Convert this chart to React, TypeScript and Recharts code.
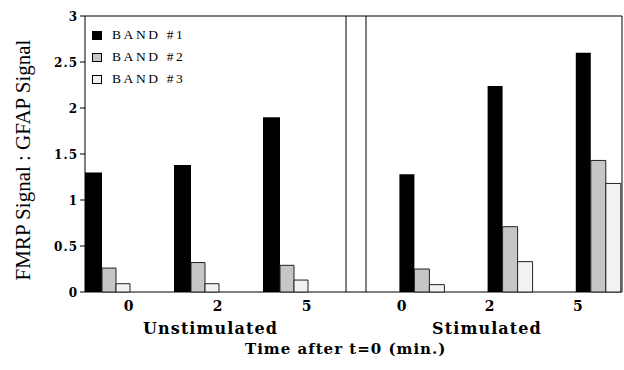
import React from 'react';
import { BarChart, Bar, XAxis, YAxis, Legend, CartesianGrid } from 'recharts';

const times = ['0', '2', '5'];
const bandNames = ['BAND #1', 'BAND #2', 'BAND #3'];
const unstimBand1 = [1.3, 1.38, 1.9];
const unstimBand2 = [0.26, 0.32, 0.29];
const unstimBand3 = [0.09, 0.09, 0.13];
const stimBand1 = [1.28, 2.24, 2.6];
const stimBand2 = [0.25, 0.71, 1.43];
const stimBand3 = [0.08, 0.33, 1.18];
const yTicks = [0, 0.5, 1, 1.5, 2, 2.5, 3];

const unstimData = times.map((t, i) => ({ time: t, b1: unstimBand1[i], b2: unstimBand2[i], b3: unstimBand3[i] }));
const stimData = times.map((t, i) => ({ time: t, b1: stimBand1[i], b2: stimBand2[i], b3: stimBand3[i] }));

const BAND_STYLES = [
  { fill: '#000000', stroke: '#000000' },
  { fill: '#c6c6c6', stroke: '#222222' },
  { fill: '#f2f2f2', stroke: '#222222' },
];

const BOLD = '"DejaVu Serif", serif';
const PLAIN = '"Liberation Serif", "Times New Roman", serif';
const AXIS = '#000';

const makeTick = (dx: number) => (props: any) => {
  const { x, y, payload } = props;
  return (
    <text x={x + dx} y={y + 19} textAnchor="middle" fontFamily={BOLD} fontWeight="bold" fontSize={14} fill="#000">
      {payload.value}
    </text>
  );
};

// y tick: small mark left of the axis plus the number
const yTick = (props: any) => {
  const { x, y, payload } = props;
  return (
    <g>
      <line x1={x - 5} y1={y} x2={x} y2={y} stroke={AXIS} />
      <text x={x - 7} y={y + 4.5} textAnchor="end" fontFamily={BOLD} fontWeight="bold" fontSize={12} letterSpacing={1} fill="#000">
        {payload.value}
      </text>
    </g>
  );
};

const groupLabel = (text: string, dx: number) => (props: any) => {
  const vb = props.viewBox || {};
  return (
    <text
      x={vb.x + vb.width / 2 + dx}
      y={vb.y + 42}
      textAnchor="middle"
      fontFamily={BOLD}
      fontWeight="bold"
      fontSize={16}
      letterSpacing={1.1}
      fill="#000"
    >
      {text}
    </text>
  );
};

const yLabel = (props: any) => {
  const vb = props.viewBox || {};
  const x = vb.x + 5;
  const y = vb.y + vb.height / 2 + 6;
  return (
    <text x={x} y={y} transform={`rotate(-90, ${x}, ${y})`} textAnchor="middle" fontFamily={PLAIN} fontSize={21} fill="#000">
      FMRP Signal : GFAP Signal
    </text>
  );
};

function renderLegend(props: any) {
  const payload = props.payload || [];
  return (
    <div>
      {payload.map((entry: any, i: number) => (
        <div key={i} style={{ display: 'flex', alignItems: 'center', height: 22 }}>
          <span
            style={{
              display: 'inline-block',
              width: 10,
              height: 9,
              boxSizing: 'border-box',
              background: BAND_STYLES[i].fill,
              border: '1.5px solid #000',
              marginRight: 10,
            }}
          />
          <span style={{ fontFamily: PLAIN, fontSize: 13.5, letterSpacing: 2.6, color: '#000' }}>{entry.value}</span>
        </div>
      ))}
    </div>
  );
}

export default function App() {
  return (
    <div style={{ position: 'absolute', left: 0, top: 0, width: 624, height: 370, background: '#fff' }}>
      <div style={{ position: 'absolute', left: 0, top: 0 }}>
        <BarChart width={346} height={370} data={unstimData} barGap={0} margin={{ top: 16, right: 0, bottom: 0, left: 25 }}>
          {/* frame: top, bottom and y-axis line */}
          <CartesianGrid
            stroke={AXIS}
            strokeDasharray=""
            horizontalCoordinatesGenerator={(p: any) => [p.offset.top, p.offset.top + p.offset.height]}
            verticalCoordinatesGenerator={(p: any) => [p.offset.left]}
          />
          <XAxis
            dataKey="time"
            height={78}
            padding={{ left: -22, right: 16 }}
            axisLine={false}
            tickLine={false}
            tickSize={0}
            tickMargin={0}
            tick={makeTick(21)}
            label={{ content: groupLabel('Unstimulated', -5) }}
          />
          <YAxis
            width={60}
            domain={[0, 3]}
            ticks={yTicks}
            axisLine={false}
            tickLine={false}
            tickSize={0}
            tickMargin={0}
            tick={yTick}
            label={{ content: yLabel }}
          />
          <Legend
            layout="vertical"
            verticalAlign="middle"
            align="center"
            content={renderLegend}
            wrapperStyle={{ left: 92, top: 24, width: 'auto', height: 'auto' }}
          />
          <Bar dataKey="b1" name={bandNames[0]} barSize={17} fill={BAND_STYLES[0].fill} stroke="none" isAnimationActive={false} />
          <Bar dataKey="b2" name={bandNames[1]} barSize={14} fill={BAND_STYLES[1].fill} stroke={BAND_STYLES[1].stroke} isAnimationActive={false} />
          <Bar dataKey="b3" name={bandNames[2]} barSize={14} fill={BAND_STYLES[2].fill} stroke={BAND_STYLES[2].stroke} isAnimationActive={false} />
        </BarChart>
      </div>
      <div style={{ position: 'absolute', left: 340, top: 0 }}>
        <BarChart width={284} height={370} data={stimData} barGap={0} margin={{ top: 16, right: 2, bottom: 0, left: 6 }}>
          {/* frame: top, bottom, the double divider and the right edge */}
          <CartesianGrid
            stroke={AXIS}
            strokeDasharray=""
            horizontalCoordinatesGenerator={(p: any) => [p.offset.top, p.offset.top + p.offset.height]}
            verticalCoordinatesGenerator={(p: any) => [p.offset.left, p.offset.left + 20, p.offset.left + p.offset.width]}
          />
          <XAxis
            dataKey="time"
            height={78}
            padding={{ left: 31.4, right: -20 }}
            axisLine={false}
            tickLine={false}
            tickSize={0}
            tickMargin={0}
            tick={makeTick(-20)}
            label={{ content: groupLabel('Stimulated', 3) }}
          />
          <YAxis width={0} domain={[0, 3]} ticks={yTicks} axisLine={false} tick={false} tickLine={false} />
          <Bar dataKey="b1" name={bandNames[0]} barSize={15} fill={BAND_STYLES[0].fill} stroke="none" isAnimationActive={false} />
          <Bar dataKey="b2" name={bandNames[1]} barSize={15} fill={BAND_STYLES[1].fill} stroke={BAND_STYLES[1].stroke} isAnimationActive={false} />
          <Bar dataKey="b3" name={bandNames[2]} barSize={15} fill={BAND_STYLES[2].fill} stroke={BAND_STYLES[2].stroke} isAnimationActive={false} />
        </BarChart>
      </div>
      <div
        style={{
          position: 'absolute',
          left: 245,
          top: 340,
          whiteSpace: 'nowrap',
          fontFamily: BOLD,
          fontWeight: 'bold',
          fontSize: 15,
          lineHeight: '18px',
          letterSpacing: 1,
          color: '#000',
        }}
      >
        Time after t=0 (min.)
      </div>
    </div>
  );
}
